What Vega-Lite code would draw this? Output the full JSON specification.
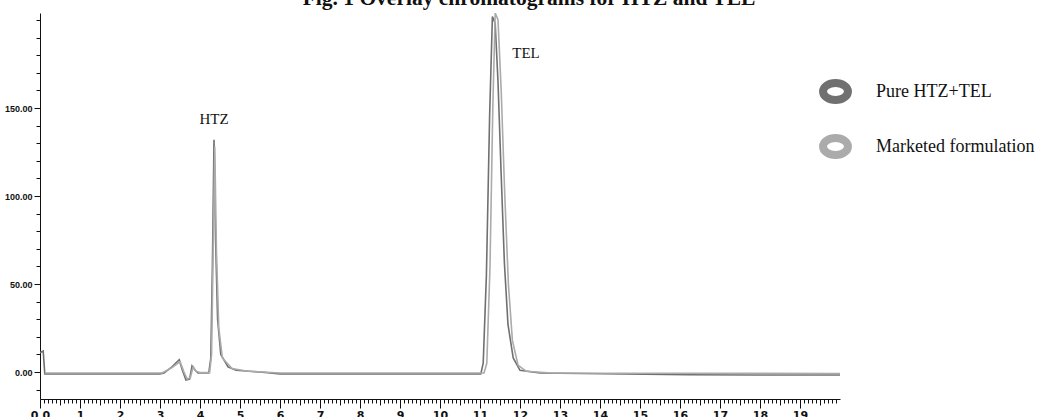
{
  "$schema": "https://vega.github.io/schema/vega-lite/v6.json",
  "autosize": "none",
  "width": 800,
  "height": 386,
  "padding": {"left": 40, "top": 13, "right": 207, "bottom": 18},
  "background": "white",
  "title": {
    "text": "Fig. 1 Overlay chromatograms for HTZ and TEL",
    "font": "Liberation Serif",
    "fontSize": 21.5,
    "fontWeight": "bold",
    "color": "#111",
    "anchor": "middle",
    "frame": "group",
    "baseline": "alphabetic",
    "offset": 6,
    "dx": 89,
    "dy": 19
  },
  "config": {
    "view": {"stroke": null},
    "axis": {"grid": false, "domainColor": "#111", "tickColor": "#111", "labelColor": "#111"}
  },
  "datasets": {
    "chrom": [
      {"series": "Pure HTZ+TEL", "t": 0, "v": 11},
      {"series": "Pure HTZ+TEL", "t": 0.08, "v": 12},
      {"series": "Pure HTZ+TEL", "t": 0.12, "v": -1},
      {"series": "Pure HTZ+TEL", "t": 3.0, "v": -1},
      {"series": "Pure HTZ+TEL", "t": 3.1, "v": -0.5},
      {"series": "Pure HTZ+TEL", "t": 3.3, "v": 3},
      {"series": "Pure HTZ+TEL", "t": 3.48, "v": 7},
      {"series": "Pure HTZ+TEL", "t": 3.56, "v": 1},
      {"series": "Pure HTZ+TEL", "t": 3.65, "v": -4.5},
      {"series": "Pure HTZ+TEL", "t": 3.74, "v": -4},
      {"series": "Pure HTZ+TEL", "t": 3.8, "v": 3.5},
      {"series": "Pure HTZ+TEL", "t": 3.88, "v": 1},
      {"series": "Pure HTZ+TEL", "t": 3.95, "v": -0.5},
      {"series": "Pure HTZ+TEL", "t": 4.22, "v": -0.5},
      {"series": "Pure HTZ+TEL", "t": 4.27, "v": 8},
      {"series": "Pure HTZ+TEL", "t": 4.31, "v": 60},
      {"series": "Pure HTZ+TEL", "t": 4.35, "v": 132},
      {"series": "Pure HTZ+TEL", "t": 4.39, "v": 75},
      {"series": "Pure HTZ+TEL", "t": 4.44, "v": 30},
      {"series": "Pure HTZ+TEL", "t": 4.52, "v": 10},
      {"series": "Pure HTZ+TEL", "t": 4.7, "v": 3},
      {"series": "Pure HTZ+TEL", "t": 4.9, "v": 1},
      {"series": "Pure HTZ+TEL", "t": 5.5, "v": 0},
      {"series": "Pure HTZ+TEL", "t": 6.0, "v": -1},
      {"series": "Pure HTZ+TEL", "t": 11.02, "v": -1},
      {"series": "Pure HTZ+TEL", "t": 11.08, "v": 5},
      {"series": "Pure HTZ+TEL", "t": 11.16, "v": 55},
      {"series": "Pure HTZ+TEL", "t": 11.24, "v": 145},
      {"series": "Pure HTZ+TEL", "t": 11.31, "v": 202},
      {"series": "Pure HTZ+TEL", "t": 11.38, "v": 198},
      {"series": "Pure HTZ+TEL", "t": 11.45, "v": 165},
      {"series": "Pure HTZ+TEL", "t": 11.53, "v": 112},
      {"series": "Pure HTZ+TEL", "t": 11.61, "v": 62},
      {"series": "Pure HTZ+TEL", "t": 11.7, "v": 27},
      {"series": "Pure HTZ+TEL", "t": 11.83, "v": 8},
      {"series": "Pure HTZ+TEL", "t": 12.0, "v": 1},
      {"series": "Pure HTZ+TEL", "t": 12.5, "v": -0.5},
      {"series": "Pure HTZ+TEL", "t": 16.2, "v": -1.5},
      {"series": "Pure HTZ+TEL", "t": 17.9, "v": -1.7},
      {"series": "Pure HTZ+TEL", "t": 20, "v": -1.7},
      {"series": "Marketed formulation", "t": 0.12, "v": -0.5},
      {"series": "Marketed formulation", "t": 3.05, "v": -0.5},
      {"series": "Marketed formulation", "t": 3.3, "v": 2.5},
      {"series": "Marketed formulation", "t": 3.5, "v": 6},
      {"series": "Marketed formulation", "t": 3.6, "v": 0},
      {"series": "Marketed formulation", "t": 3.68, "v": -4},
      {"series": "Marketed formulation", "t": 3.76, "v": -3},
      {"series": "Marketed formulation", "t": 3.83, "v": 3},
      {"series": "Marketed formulation", "t": 3.9, "v": 0.5},
      {"series": "Marketed formulation", "t": 4.0, "v": -0.3},
      {"series": "Marketed formulation", "t": 4.24, "v": -0.3},
      {"series": "Marketed formulation", "t": 4.29, "v": 10},
      {"series": "Marketed formulation", "t": 4.33, "v": 70},
      {"series": "Marketed formulation", "t": 4.37, "v": 128},
      {"series": "Marketed formulation", "t": 4.41, "v": 70},
      {"series": "Marketed formulation", "t": 4.47, "v": 25},
      {"series": "Marketed formulation", "t": 4.56, "v": 8},
      {"series": "Marketed formulation", "t": 4.8, "v": 2},
      {"series": "Marketed formulation", "t": 5.2, "v": 0.5},
      {"series": "Marketed formulation", "t": 6.0, "v": -0.5},
      {"series": "Marketed formulation", "t": 11.1, "v": -0.5},
      {"series": "Marketed formulation", "t": 11.17, "v": 5},
      {"series": "Marketed formulation", "t": 11.25, "v": 60},
      {"series": "Marketed formulation", "t": 11.32, "v": 150},
      {"series": "Marketed formulation", "t": 11.38, "v": 204},
      {"series": "Marketed formulation", "t": 11.45, "v": 200},
      {"series": "Marketed formulation", "t": 11.53, "v": 160},
      {"series": "Marketed formulation", "t": 11.62, "v": 100},
      {"series": "Marketed formulation", "t": 11.71, "v": 50},
      {"series": "Marketed formulation", "t": 11.81, "v": 18},
      {"series": "Marketed formulation", "t": 11.95, "v": 4},
      {"series": "Marketed formulation", "t": 12.15, "v": 0.5},
      {"series": "Marketed formulation", "t": 12.8, "v": -0.5},
      {"series": "Marketed formulation", "t": 20, "v": -0.8}
    ],
    "labels": [
      {"t": 4.35, "v": 144, "label": "HTZ"},
      {"t": 12.15, "v": 181, "label": "TEL"}
    ]
  },
  "resolve": {"axis": {"x": "independent", "y": "independent"}},
  "layer": [
    {
      "data": {"name": "chrom"},
      "mark": {"type": "line", "strokeWidth": 1.6, "clip": true},
      "encoding": {
        "x": {
          "field": "t", "type": "quantitative",
          "scale": {"domain": [0, 20], "nice": false, "zero": false},
          "axis": {
            "orient": "bottom", "title": null,
            "values": [0, 1, 2, 3, 4, 5, 6, 7, 8, 9, 10, 11, 12, 13, 14, 15, 16, 17, 18, 19],
            "labelExpr": "datum.value == 0 ? '0.0' : datum.label",
            "tickSize": 9, "labelPadding": 1,
            "labelFont": "DejaVu Sans", "labelFontSize": 11, "labelFontWeight": "bold",
            "labelFlush": false, "labelOverlap": false
          }
        },
        "y": {
          "field": "v", "type": "quantitative",
          "scale": {"domain": [-15.3, 204], "nice": false, "zero": false},
          "axis": {
            "orient": "left", "title": null,
            "values": [0, 50, 100, 150], "format": ".2f",
            "tickSize": 6, "labelPadding": 2,
            "labelFont": "Liberation Sans", "labelFontSize": 9, "labelFontWeight": "bold",
            "labelFlush": false
          }
        },
        "color": {
          "field": "series", "type": "nominal",
          "scale": {"domain": ["Pure HTZ+TEL", "Marketed formulation"], "range": ["#707070", "#ababab"]},
          "legend": {
            "title": null,
            "orient": "none",
            "legendX": 779,
            "legendY": 62,
            "symbolType": "M-1,0 A1,0.68 0 1,0 1,0 A1,0.68 0 1,0 -1,0 Z",
            "symbolSize": 620,
            "symbolStrokeWidth": 8,
            "symbolFillColor": "white",
            "labelFont": "Liberation Serif",
            "labelFontSize": 18,
            "labelColor": "#111",
            "labelOffset": 24,
            "rowPadding": 6,
            "padding": 0
          }
        }
      }
    },
    {
      "data": {"name": "labels"},
      "mark": {"type": "text", "font": "Liberation Serif", "fontSize": 15, "color": "#111", "baseline": "middle"},
      "encoding": {
        "x": {
          "field": "t", "type": "quantitative",
          "scale": {"domain": [0, 20], "nice": false, "zero": false},
          "axis": {
            "orient": "bottom", "title": null, "domain": false, "labels": false,
            "values": [0.1,0.2,0.3,0.4,0.6,0.7,0.8,0.9,1.1,1.2,1.3,1.4,1.6,1.7,1.8,1.9,2.1,2.2,2.3,2.4,2.6,2.7,2.8,2.9,3.1,3.2,3.3,3.4,3.6,3.7,3.8,3.9,4.1,4.2,4.3,4.4,4.6,4.7,4.8,4.9,5.1,5.2,5.3,5.4,5.6,5.7,5.8,5.9,6.1,6.2,6.3,6.4,6.6,6.7,6.8,6.9,7.1,7.2,7.3,7.4,7.6,7.7,7.8,7.9,8.1,8.2,8.3,8.4,8.6,8.7,8.8,8.9,9.1,9.2,9.3,9.4,9.6,9.7,9.8,9.9,10.1,10.2,10.3,10.4,10.6,10.7,10.8,10.9,11.1,11.2,11.3,11.4,11.6,11.7,11.8,11.9,12.1,12.2,12.3,12.4,12.6,12.7,12.8,12.9,13.1,13.2,13.3,13.4,13.6,13.7,13.8,13.9,14.1,14.2,14.3,14.4,14.6,14.7,14.8,14.9,15.1,15.2,15.3,15.4,15.6,15.7,15.8,15.9,16.1,16.2,16.3,16.4,16.6,16.7,16.8,16.9,17.1,17.2,17.3,17.4,17.6,17.7,17.8,17.9,18.1,18.2,18.3,18.4,18.6,18.7,18.8,18.9,19.1,19.2,19.3,19.4,19.6,19.7,19.8,19.9],
            "tickSize": 4
          }
        },
        "y": {
          "field": "v", "type": "quantitative",
          "scale": {"domain": [-15.3, 204], "nice": false, "zero": false},
          "axis": {
            "orient": "left", "title": null, "domain": false, "labels": false,
            "values": [-10, 10, 20, 30, 40, 60, 70, 80, 90, 110, 120, 130, 140, 160, 170, 180, 190, 200],
            "tickSize": 4
          }
        },
        "text": {"field": "label"}
      }
    },
    {
      "data": {"name": "labels"},
      "mark": {"type": "text", "opacity": 0},
      "encoding": {
        "x": {
          "field": "t", "type": "quantitative",
          "scale": {"domain": [0, 20], "nice": false, "zero": false},
          "axis": {
            "orient": "bottom", "title": null, "domain": false, "labels": false,
            "values": [0.5,1.5,2.5,3.5,4.5,5.5,6.5,7.5,8.5,9.5,10.5,11.5,12.5,13.5,14.5,15.5,16.5,17.5,18.5,19.5],
            "tickSize": 6
          }
        },
        "y": {
          "field": "v", "type": "quantitative",
          "scale": {"domain": [-15.3, 204], "nice": false, "zero": false},
          "axis": null
        },
        "text": {"field": "label"}
      }
    }
  ]
}
